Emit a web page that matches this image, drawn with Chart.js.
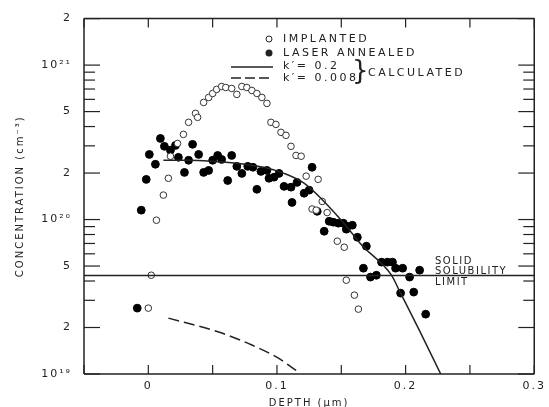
<!DOCTYPE html>
<html>
<head>
<meta charset="utf-8">
<script src="https://cdn.jsdelivr.net/npm/chart.js@4.4.1/dist/chart.umd.min.js"></script>
<style>
    html, body { margin: 0; padding: 0; background: #fff; }
    canvas { display: block; }
</style>
</head>
<body>
<canvas id="chart_canvas" width="549" height="407"></canvas>
<script>
/* phosphorus profile: implanted vs laser annealed */

// implanted (open circles), depth in um, concentration in cm^-3
const implantedDepth = [0.000, 0.0023, 0.0063, 0.0117, 0.0156, 0.0172, 0.0227, 0.0273, 0.0313, 0.0367,
    0.0383, 0.043, 0.0469, 0.050, 0.0531, 0.057, 0.0602, 0.0648, 0.0688, 0.0727,
    0.0766, 0.0805, 0.0844, 0.0883, 0.0922, 0.0953, 0.0992, 0.1031, 0.107, 0.1109,
    0.1148, 0.1188, 0.1227, 0.1273, 0.1305, 0.132, 0.1352, 0.139, 0.1469, 0.1523,
    0.1539, 0.1602, 0.1633];
const implantedConc = [2.67e19, 4.36e19, 9.9e19, 1.44e20, 1.85e20, 2.57e20, 3.11e20, 3.56e20, 4.26e20, 4.87e20,
    4.59e20, 5.73e20, 6.17e20, 6.55e20, 6.96e20, 7.27e20, 7.16e20, 7.06e20, 6.46e20, 7.27e20,
    7.16e20, 6.85e20, 6.55e20, 6.17e20, 5.65e20, 4.26e20, 4.13e20, 3.67e20, 3.51e20, 2.98e20,
    2.60e20, 2.57e20, 1.91e20, 1.17e20, 1.15e20, 1.82e20, 1.31e20, 1.11e20, 7.24e19, 6.62e19,
    4.05e19, 3.24e19, 2.63e19];

// laser annealed (filled circles)
const annealedDepth = [-0.0086, -0.0055, -0.0016, 0.0008, 0.0055, 0.0094, 0.0125, 0.0172, 0.0211, 0.0234,
    0.0281, 0.0313, 0.0344, 0.0391, 0.043, 0.0469, 0.050, 0.0539, 0.057, 0.0617,
    0.0648, 0.0688, 0.0727, 0.0773, 0.0813, 0.0844, 0.0875, 0.0922, 0.0938, 0.0977,
    0.1016, 0.1055, 0.1109, 0.1117, 0.1156, 0.1211, 0.125, 0.1273, 0.1313, 0.1367,
    0.1406, 0.1438, 0.1477, 0.1516, 0.1539, 0.1547, 0.1586, 0.1625, 0.1672, 0.1695,
    0.1727, 0.1773, 0.1813, 0.1859, 0.1898, 0.1922, 0.1977, 0.2031, 0.2109, 0.1961,
    0.2063, 0.2156];
const annealedConc = [2.67e19, 1.15e20, 1.82e20, 2.64e20, 2.28e20, 3.35e20, 2.98e20, 2.81e20, 3.02e20, 2.53e20,
    2.02e20, 2.42e20, 3.07e20, 2.64e20, 2.02e20, 2.08e20, 2.42e20, 2.60e20, 2.45e20, 1.79e20,
    2.60e20, 2.21e20, 1.99e20, 2.21e20, 2.18e20, 1.57e20, 2.05e20, 2.08e20, 1.85e20, 1.88e20,
    1.99e20, 1.64e20, 1.62e20, 1.29e20, 1.74e20, 1.48e20, 1.55e20, 2.18e20, 1.13e20, 8.40e19,
    9.75e19, 9.61e19, 9.47e19, 9.47e19, 8.66e19, 9.05e19, 9.19e19, 7.68e19, 4.84e19, 6.72e19,
    4.24e19, 4.36e19, 5.30e19, 5.30e19, 5.30e19, 4.84e19, 4.84e19, 4.24e19, 4.70e19, 3.34e19,
    3.39e19, 2.44e19];

// calculated, k' = 0.2 (solid)
const calcHighDepth = [0.0117, 0.0313, 0.0508, 0.0703, 0.0898, 0.1055, 0.121, 0.135, 0.152, 0.166,
    0.189, 0.1953, 0.2109, 0.2273];
const calcHighConc = [2.42e20, 2.42e20, 2.38e20, 2.31e20, 2.18e20, 1.99e20, 1.72e20, 1.35e20, 9.47e19, 6.82e19,
    4.37e19, 3.44e19, 1.90e19, 1.0e19];

// calculated, k' = 0.008 (dashed)
const calcLowDepth = [0.0156, 0.0547, 0.0805, 0.1008, 0.1156];
const calcLowConc = [2.30e19, 1.87e19, 1.54e19, 1.27e19, 1.045e19];

// solid solubility limit
const solubilityDepth = [-0.05, 0.3];
const solubilityConc = [4.35e19, 4.35e19];

// axes
const xTickValues = [0, 0.1, 0.2, 0.3];
const xTickLabels = ['0', '0.1', '0.2', '0.3'];
const xMarks = [-0.05, 0, 0.05, 0.1, 0.15, 0.2, 0.25, 0.3];
const yTickValues = [1e19, 2e19, 5e19, 1e20, 2e20, 5e20, 1e21, 2e21];
const yTickLabels = ['10¹⁹', '2', '5', '10²⁰', '2', '5', '10²¹', '2'];
const yMarks = [1e19, 2e19, 3e19, 4e19, 5e19, 6e19, 7e19, 8e19, 9e19,
    1e20, 2e20, 3e20, 4e20, 5e20, 6e20, 7e20, 8e20, 9e20, 1e21, 2e21];

const INK = '#222';
const FONT = 'DejaVu Sans';

function toPoints ( xs, ys )
{
    return xs.map((x, i) => ({ x: x, y: ys[i] }));
}

function segment ( ctx, x0, y0, x1, y1 )
{
    ctx.beginPath();
    ctx.moveTo(x0, y0);
    ctx.lineTo(x1, y1);
    ctx.stroke();
}

// box round the plot with inward ticks on all four sides
function drawFrame ( chart )
{
    const ctx = chart.ctx;
    const a = chart.chartArea;
    const xs = chart.scales.x;
    const ys = chart.scales.y;

    ctx.save();
    ctx.setLineDash([]);
    ctx.strokeStyle = INK;

    ctx.lineWidth = 1.5;
    segment(ctx, a.left, a.top, a.right, a.top);
    segment(ctx, a.right, a.top, a.right, a.bottom);
    segment(ctx, a.left, a.bottom, a.right, a.bottom);
    segment(ctx, a.left, a.top, a.left, a.bottom);

    ctx.lineWidth = 1.2;
    for ( let v of yMarks )
    {
        const py = ys.getPixelForValue(v);
        const len = yTickValues.includes(v) ? 16 : 11;
        segment(ctx, a.left, py, a.left + len, py);
        segment(ctx, a.right, py, a.right - len, py);
    }
    for ( let v of xMarks )
    {
        const px = xs.getPixelForValue(v);
        segment(ctx, px, a.bottom, px, a.bottom - 9);
        segment(ctx, px, a.top, px, a.top + 9);
    }
    ctx.restore();
}

const decorations =
{
    id: 'decorations',
    beforeDraw: function (chart)
    {
        chart.ctx.letterSpacing = '2px';
    },
    afterDraw: function (chart)
    {
        const ctx = chart.ctx;

        ctx.save();
        ctx.strokeStyle = INK;
        ctx.fillStyle = INK;

        // legend
        ctx.textBaseline = 'middle';
        ctx.textAlign = 'left';
        ctx.font = '11px "' + FONT + '"';
        ctx.letterSpacing = '2.5px';

        ctx.fillText('IMPLANTED', 283, 39);
        ctx.lineWidth = 1;
        ctx.beginPath(); ctx.arc(269, 39, 3, 0, 2 * Math.PI); ctx.stroke();

        ctx.fillText('LASER ANNEALED', 283, 53);
        ctx.beginPath(); ctx.arc(269, 53, 3.5, 0, 2 * Math.PI); ctx.fill();

        ctx.fillText('k′= 0.2', 283, 66);
        ctx.lineWidth = 1.3;
        segment(ctx, 231, 67, 273, 67);

        ctx.fillText('k′= 0.008', 283, 78);
        ctx.setLineDash([10, 4]);
        segment(ctx, 231, 78, 273, 78);
        ctx.setLineDash([]);

        ctx.letterSpacing = '0px';
        ctx.font = '26px "' + FONT + '"';
        ctx.fillText('}', 352, 72);

        ctx.font = '11px "' + FONT + '"';
        ctx.letterSpacing = '2.5px';
        ctx.fillText('CALCULATED', 368, 73);

        // solubility label
        ctx.font = '10px "' + FONT + '"';
        ctx.letterSpacing = '1.5px';
        ctx.fillText('SOLID', 435, 261);
        ctx.fillText('SOLUBILITY', 435, 271);
        ctx.fillText('LIMIT', 435, 282);

        ctx.restore();

        drawFrame(chart);
    }
};

const data =
{
    datasets: [
        {
            label: 'solid solubility',
            data: toPoints(solubilityDepth, solubilityConc),
            showLine: true, pointRadius: 0,
            borderColor: INK, borderWidth: 1.5
        },
        {
            label: "k'=0.2",
            data: toPoints(calcHighDepth, calcHighConc),
            showLine: true, pointRadius: 0, cubicInterpolationMode: 'monotone',
            borderColor: INK, borderWidth: 1.5
        },
        {
            label: "k'=0.008",
            data: toPoints(calcLowDepth, calcLowConc),
            showLine: true, pointRadius: 0, cubicInterpolationMode: 'monotone',
            borderColor: INK, borderWidth: 1.5, borderDash: [11, 5]
        },
        {
            label: 'implanted',
            data: toPoints(implantedDepth, implantedConc),
            pointRadius: 3.3, borderWidth: 1,
            borderColor: '#333', backgroundColor: '#fff'
        },
        {
            label: 'laser annealed',
            data: toPoints(annealedDepth, annealedConc),
            pointRadius: 3.9, borderWidth: 1,
            borderColor: '#000', backgroundColor: '#000'
        }
    ]
};

const options =
{
    responsive: false,
    animation: false,
    devicePixelRatio: 1,
    layout: { padding: { top: 18, right: 14, left: 0, bottom: 0 } },
    plugins:
    {
        legend: { display: false },
        tooltip: { enabled: false }
    },
    scales:
    {
        x:
        {
            type: 'linear', min: -0.05, max: 0.3,
            afterBuildTicks: function (s) { s.ticks = xTickValues.map(v => ({ value: v })); },
            afterFit: function (s) { s.height = 33; },
            grid: { display: false, drawTicks: false },
            border: { display: false },
            ticks: {
                padding: 6, color: INK, maxRotation: 0, autoSkip: false,
                font: { family: FONT, size: 11 },
                callback: function (v, i) { return xTickLabels[i]; }
            },
            title: {
                display: true, text: 'DEPTH (μm)', color: INK,
                font: { family: FONT, size: 10 }, padding: { top: 0, bottom: -2 }
            }
        },
        y:
        {
            type: 'logarithmic', min: 1e19, max: 2e21,
            afterBuildTicks: function (s) { s.ticks = yTickValues.map(v => ({ value: v })); },
            afterFit: function (s) { s.width = 84; },
            grid: { display: false, drawTicks: false },
            border: { display: false },
            ticks: {
                padding: 12, color: INK, autoSkip: false,
                font: { family: FONT, size: 11 },
                callback: function (v, i) { return yTickLabels[i]; }
            },
            title: {
                display: true, text: 'CONCENTRATION (cm⁻³)', color: INK,
                font: { family: FONT, size: 10 }, padding: { top: 14, bottom: 0 }
            }
        }
    }
};

const config = { type: 'scatter', data: data, options: options, plugins: [decorations] };
const chart = new Chart(document.getElementById('chart_canvas'), config);
</script>
</body>
</html>
